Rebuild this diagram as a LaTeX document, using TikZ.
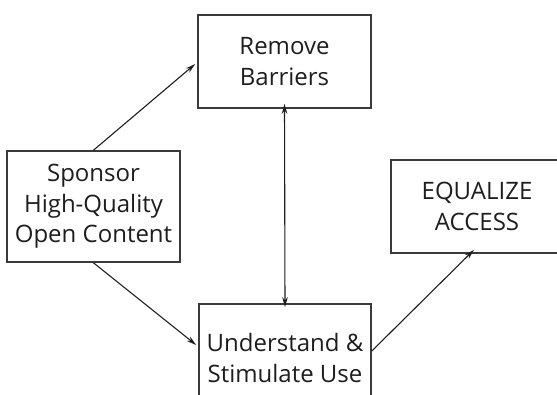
\documentclass[tikz,border=0pt]{standalone}
\usepackage{fontspec}
\setmainfont{Open Sans}
\usetikzlibrary{arrows.meta}
\definecolor{boxline}{HTML}{3A3A3A}
\definecolor{txt}{HTML}{1E1E1E}
\tikzset{
  box/.style={draw=boxline, line width=1.6pt, minimum width=173pt, align=center,
    text=txt, font=\fontsize{24}{30.5}\selectfont, inner sep=0pt},
  conn/.style={draw=txt, line width=1.1pt, -{Stealth[length=10pt,width=5.5pt]}},
  dconn/.style={draw=txt, line width=1.1pt, {Stealth[length=10pt,width=5.5pt]}-{Stealth[length=10pt,width=5.5pt]}}
}
\begin{document}
\begin{tikzpicture}[x=1pt,y=-1pt]
\clip (0,0) rectangle (557,394);
\useasboundingbox (0,0) rectangle (557,394);
\fill[white] (0,0) rectangle (557,394);
\node[box, minimum height=93pt] (rb) at (284.5,61.5) {Remove\\Barriers};
\node[box, minimum height=111pt] (sp) at (93.5,206.5) {Sponsor\\High-Quality\\Open Content};
\node[box, minimum width=172pt, minimum height=108pt] (us) at (285,358) {Understand \&\\Stimulate Use};
\node[box, minimum width=172pt, minimum height=93pt] (eq) at (477,206.5) {EQUALIZE\\ACCESS};
\draw[conn] (sp.north) -- ([xshift=-2pt,yshift=-2.5pt]rb.west);
\draw[conn] (sp.south) -- ([xshift=-2pt,yshift=13pt]us.west);
\draw[conn] ([yshift=7pt]us.east) -- ([xshift=-3pt,yshift=4pt]eq.south);
\draw[dconn] ([yshift=5pt]rb.south) -- ([yshift=-4pt]us.north);
\end{tikzpicture}
\end{document}
